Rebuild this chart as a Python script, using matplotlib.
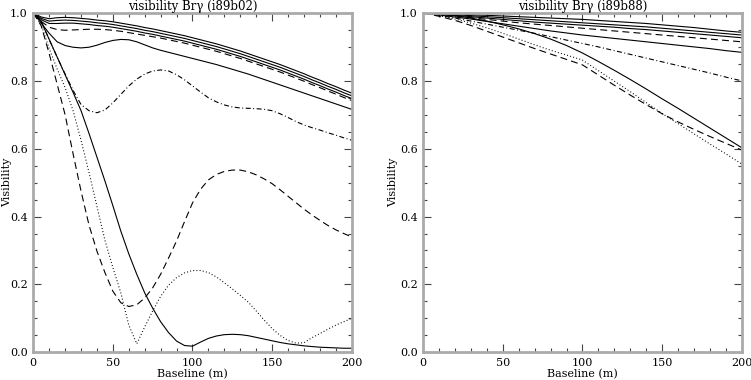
"""Visibility vs baseline for the Br gamma models (i89b02 / i89b88)."""
import matplotlib
matplotlib.use("Agg")
import matplotlib.pyplot as plt
from matplotlib.ticker import MultipleLocator

plt.rcParams["font.family"] = ["DejaVu Serif"]
plt.rcParams["lines.scale_dashes"] = False

# baselines (m)
x_left = [0, 5, 10, 15, 20, 25, 30, 35, 40, 45, 50, 55, 60, 65, 70, 75, 80, 85, 90, 95,
          100, 105, 110, 115, 120, 125, 130, 135, 140, 145, 150, 155, 160, 165, 170, 175,
          180, 185, 190, 195, 200]
x_right = [0, 10, 20, 30, 40, 50, 60, 70, 80, 90, 100, 110, 120, 130, 140, 150, 160, 170,
           180, 190, 200]

# --- i89b02 ---
b02_solid1 = [1.0, 0.988, 0.983, 0.986, 0.987, 0.986, 0.984, 0.982, 0.979, 0.977, 0.974, 0.970,
              0.966, 0.962, 0.957, 0.953, 0.948, 0.943, 0.938, 0.933, 0.927, 0.921, 0.915, 0.909,
              0.902, 0.895, 0.888, 0.880, 0.872, 0.864, 0.856, 0.848, 0.839, 0.830, 0.821, 0.811,
              0.802, 0.792, 0.783, 0.773, 0.764]
b02_solid2 = [1.0, 0.984, 0.976, 0.978, 0.979, 0.978, 0.976, 0.974, 0.971, 0.969, 0.966, 0.962,
              0.958, 0.954, 0.949, 0.945, 0.940, 0.935, 0.930, 0.925, 0.919, 0.913, 0.907, 0.901,
              0.894, 0.887, 0.880, 0.872, 0.864, 0.856, 0.848, 0.840, 0.831, 0.822, 0.813, 0.803,
              0.794, 0.784, 0.775, 0.765, 0.756]
b02_solid3 = [1.0, 0.980, 0.969, 0.969, 0.970, 0.970, 0.968, 0.966, 0.963, 0.961, 0.958, 0.954,
              0.950, 0.946, 0.941, 0.937, 0.932, 0.927, 0.922, 0.917, 0.911, 0.905, 0.899, 0.893,
              0.886, 0.879, 0.872, 0.864, 0.856, 0.848, 0.840, 0.832, 0.823, 0.814, 0.805, 0.795,
              0.786, 0.776, 0.767, 0.757, 0.748]
b02_dash1 = [1.0, 0.975, 0.958, 0.951, 0.949, 0.950, 0.951, 0.952, 0.952, 0.951, 0.949, 0.946,
             0.942, 0.938, 0.934, 0.930, 0.926, 0.921, 0.916, 0.911, 0.905, 0.899, 0.893, 0.887,
             0.880, 0.873, 0.866, 0.858, 0.850, 0.842, 0.834, 0.826, 0.817, 0.808, 0.799, 0.789,
             0.780, 0.770, 0.761, 0.751, 0.742]
b02_solid4 = [1.0, 0.970, 0.940, 0.915, 0.904, 0.899, 0.897, 0.899, 0.905, 0.913, 0.919, 0.922,
              0.921, 0.915, 0.906, 0.897, 0.890, 0.884, 0.878, 0.872, 0.866, 0.860, 0.854, 0.848,
              0.841, 0.834, 0.827, 0.820, 0.812, 0.804, 0.796, 0.788, 0.780, 0.772, 0.764, 0.756,
              0.748, 0.740, 0.732, 0.724, 0.716]
b02_dashdot = [1.0, 0.975, 0.922, 0.870, 0.820, 0.772, 0.730, 0.712, 0.706, 0.714, 0.735, 0.760,
               0.785, 0.805, 0.820, 0.829, 0.832, 0.829, 0.818, 0.803, 0.785, 0.767, 0.750, 0.738,
               0.729, 0.723, 0.720, 0.719, 0.718, 0.716, 0.712, 0.703, 0.692, 0.680, 0.670, 0.662,
               0.655, 0.647, 0.640, 0.632, 0.625]
b02_dash2 = [1.0, 0.962, 0.880, 0.790, 0.700, 0.585, 0.475, 0.375, 0.298, 0.235, 0.180, 0.146,
             0.135, 0.140, 0.160, 0.190, 0.230, 0.278, 0.328, 0.385, 0.440, 0.480, 0.508, 0.524,
             0.533, 0.537, 0.537, 0.532, 0.523, 0.511, 0.497, 0.479, 0.460, 0.441, 0.422, 0.405,
             0.389, 0.374, 0.361, 0.350, 0.340]
b02_dot = [1.0, 0.965, 0.895, 0.835, 0.780, 0.712, 0.625, 0.530, 0.430, 0.330, 0.250, 0.175,
           0.080, 0.025, 0.075, 0.122, 0.165, 0.198, 0.220, 0.234, 0.241, 0.241, 0.235, 0.222,
           0.205, 0.187, 0.168, 0.148, 0.122, 0.095, 0.070, 0.050, 0.035, 0.027, 0.028, 0.043,
           0.055, 0.068, 0.080, 0.090, 0.100]
b02_solid5 = [1.0, 0.975, 0.922, 0.870, 0.818, 0.766, 0.712, 0.645, 0.575, 0.505, 0.432, 0.357,
              0.290, 0.230, 0.175, 0.130, 0.090, 0.058, 0.033, 0.020, 0.018, 0.030, 0.041, 0.048,
              0.052, 0.053, 0.052, 0.049, 0.044, 0.039, 0.034, 0.029, 0.025, 0.022, 0.019, 0.017,
              0.015, 0.014, 0.013, 0.012, 0.012]

# --- i89b88 ---
b88_solid1 = [1.0, 0.999, 0.997, 0.995, 0.993, 0.991, 0.989, 0.987, 0.985, 0.983, 0.981, 0.978,
              0.975, 0.972, 0.969, 0.965, 0.961, 0.957, 0.952, 0.947, 0.943]
b88_solid2 = [1.0, 0.998, 0.995, 0.992, 0.989, 0.986, 0.983, 0.980, 0.977, 0.974, 0.971, 0.968,
              0.965, 0.962, 0.959, 0.955, 0.951, 0.947, 0.943, 0.939, 0.935]
b88_solid3 = [1.0, 0.997, 0.993, 0.989, 0.985, 0.981, 0.977, 0.973, 0.970, 0.967, 0.964, 0.961,
              0.958, 0.954, 0.951, 0.947, 0.943, 0.939, 0.935, 0.931, 0.927]
b88_dash1 = [1.0, 0.996, 0.991, 0.986, 0.981, 0.976, 0.971, 0.967, 0.963, 0.959, 0.955, 0.951,
             0.947, 0.943, 0.939, 0.935, 0.931, 0.927, 0.923, 0.919, 0.915]
b88_solid4 = [1.0, 0.994, 0.988, 0.982, 0.975, 0.968, 0.961, 0.954, 0.947, 0.941, 0.935, 0.930,
              0.925, 0.920, 0.915, 0.910, 0.905, 0.900, 0.895, 0.889, 0.884]
b88_dashdot = [1.0, 0.993, 0.985, 0.976, 0.967, 0.958, 0.949, 0.940, 0.930, 0.920, 0.910, 0.900,
               0.889, 0.878, 0.867, 0.856, 0.845, 0.834, 0.823, 0.811, 0.800]
b88_dash2 = [1.0, 0.990, 0.978, 0.963, 0.946, 0.929, 0.912, 0.895, 0.879, 0.863, 0.847, 0.817,
             0.787, 0.758, 0.730, 0.703, 0.679, 0.657, 0.636, 0.616, 0.596]
b88_dot = [1.0, 0.992, 0.982, 0.970, 0.956, 0.940, 0.923, 0.906, 0.890, 0.876, 0.861, 0.830,
           0.799, 0.768, 0.736, 0.704, 0.674, 0.644, 0.614, 0.585, 0.555]
b88_solid5 = [1.0, 0.997, 0.992, 0.985, 0.976, 0.965, 0.953, 0.939, 0.923, 0.904, 0.882, 0.857,
              0.831, 0.804, 0.776, 0.747, 0.719, 0.690, 0.661, 0.632, 0.603]

SOLID = "-"
DASH = (0, (5.0, 3.0))
DOT = (0, (0.7, 1.6))
DASHDOT = (0, (3.6, 1.8, 0.7, 1.8))

left_curves = [
    (b02_solid1, SOLID), (b02_solid2, SOLID), (b02_solid3, SOLID), (b02_dash1, DASH),
    (b02_solid4, SOLID), (b02_dashdot, DASHDOT), (b02_dash2, DASH), (b02_dot, DOT),
    (b02_solid5, SOLID),
]
right_curves = [
    (b88_solid1, SOLID), (b88_solid2, SOLID), (b88_solid3, SOLID), (b88_dash1, DASH),
    (b88_solid4, SOLID), (b88_dashdot, DASHDOT), (b88_dash2, DASH), (b88_dot, DOT),
    (b88_solid5, SOLID),
]


def style_axes(ax, title, ylab_x):
    ax.set_xlim(0, 200)
    ax.set_ylim(0, 1.0)
    ax.xaxis.set_major_locator(MultipleLocator(50))
    ax.xaxis.set_minor_locator(MultipleLocator(10))
    ax.yaxis.set_major_locator(MultipleLocator(0.2))
    ax.yaxis.set_minor_locator(MultipleLocator(0.05))
    ax.yaxis.set_major_formatter(lambda v, pos: f"{v:.1f}")
    ax.tick_params(which="both", direction="in", top=True, right=True, color="#444444",
                   labelsize=8, width=0.8, pad=4)
    ax.tick_params(which="major", length=6)
    ax.tick_params(which="minor", length=3)
    for sp in ax.spines.values():
        sp.set_color("#aaaaaa")
        sp.set_linewidth(2)
    ax.set_title(title, fontsize=8.5, pad=1.5)
    ax.set_xlabel("Baseline (m)", fontsize=8, labelpad=1)
    ax.set_ylabel("Visibility", fontsize=8)
    ax.yaxis.set_label_coords(ylab_x, 0.5)


fig = plt.figure(figsize=(7.51, 3.80), dpi=100)
ax1 = fig.add_axes([0.0443, 0.0729, 0.424, 0.893])
ax2 = fig.add_axes([0.5636, 0.0729, 0.424, 0.893])

for ys, ls in left_curves:
    ax1.plot(x_left, ys, color="black", linewidth=0.8, linestyle=ls)
for ys, ls in right_curves:
    ax2.plot(x_right, ys, color="black", linewidth=0.8, linestyle=ls)

style_axes(ax1, "visibility Brγ (i89b02)", -0.066)
style_axes(ax2, "visibility Brγ (i89b88)", -0.08)

fig.savefig("out.png", dpi=100)
